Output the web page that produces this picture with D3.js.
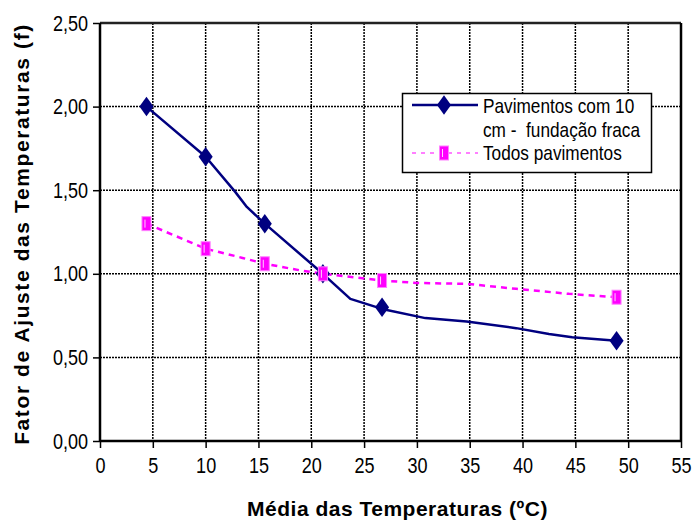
<!DOCTYPE html>
<html>
<head>
<meta charset="utf-8">
<script src="https://cdn.jsdelivr.net/npm/d3@7/dist/d3.min.js"></script>
<style>
  html, body { margin: 0; padding: 0; background: #fff; }
  svg { display: block; }
  .tick-label { font-family: "Liberation Sans", Arial, sans-serif; font-size: 22px; fill: #000; }
  .axis-title { font-family: "Liberation Sans", Arial, sans-serif; font-weight: bold; fill: #000; }
  .legend-text { font-family: "Liberation Sans", Arial, sans-serif; font-size: 21px; fill: #000; }
</style>
</head>
<body>
<svg id="chart" width="695" height="521"></svg>
<script>
// Temperatures (°C) at which the adjustment factor is marked
const markerTemps = [4.4, 10.0, 15.6, 21.1, 26.7, 48.9];
// "Pavimentos com 10 cm - fundação fraca" marked values
const fracaValues = [2.00, 1.70, 1.30, 1.00, 0.80, 0.60];
// "Todos pavimentos" marked values
const todosValues = [1.30, 1.15, 1.06, 1.00, 0.96, 0.86];

// Full traced curves (line passes through extra unmarked points)
const fracaCurveTemps = [4.4, 10.0, 12.8, 13.9, 15.6, 21.1, 23.7, 26.7, 30.8, 34.7, 39.4, 42.5, 44.7, 48.9];
const fracaCurveValues = [2.00, 1.70, 1.49, 1.40, 1.30, 1.00, 0.85, 0.79, 0.735, 0.715, 0.675, 0.64, 0.62, 0.60];
const todosCurveTemps = [4.4, 10.0, 13.5, 15.6, 19.0, 21.1, 25.3, 26.7, 30.0, 34.7, 39.4, 44.4, 48.9];
const todosCurveValues = [1.30, 1.15, 1.095, 1.06, 1.02, 1.00, 0.97, 0.96, 0.945, 0.94, 0.91, 0.88, 0.86];

// Axis ticks
const xTicks = [0, 5, 10, 15, 20, 25, 30, 35, 40, 45, 50, 55];
const yTicks = [0, 0.5, 1.0, 1.5, 2.0, 2.5];

const seriesNames = ["Pavimentos com 10", "cm -  fundação fraca", "Todos pavimentos"];
const xTitle = "Média das Temperaturas (ºC)";
const yTitle = "Fator de Ajuste das Temperaturas (f)";

const colorFraca = "#000080";
const colorTodos = "#ff00ff";

const svg = d3.select("#chart");
const plot = { left: 100, right: 681, top: 23, bottom: 441 };

const x = d3.scaleLinear().domain([0, 55]).range([plot.left, plot.right]);
const y = d3.scaleLinear().domain([0, 2.5]).range([plot.bottom, plot.top]);

const fmt = v => d3.format(".2f")(v).replace(".", ",");

// Narrow-face look: squeeze glyphs horizontally while keeping real text
function narrow(sel, k = 0.82) {
  sel.each(function () {
    const w = this.getComputedTextLength();
    d3.select(this).attr("textLength", w * k).attr("lengthAdjust", "spacingAndGlyphs");
  });
}

// Dotted grid
const grid = svg.append("g");
grid.selectAll("line.vg")
  .data(xTicks.filter(t => t > 0 && t < 55))
  .join("line")
  .attr("x1", d => x(d)).attr("x2", d => x(d))
  .attr("y1", plot.top).attr("y2", plot.bottom)
  .attr("stroke", "#000").attr("stroke-width", 1.5)
  .attr("stroke-dasharray", "2,1");
grid.selectAll("line.hg")
  .data(yTicks.filter(t => t > 0 && t < 2.5))
  .join("line")
  .attr("x1", plot.left).attr("x2", plot.right)
  .attr("y1", d => y(d)).attr("y2", d => y(d))
  .attr("stroke", "#000").attr("stroke-width", 1.5)
  .attr("stroke-dasharray", "2,1");

// Frame: top and right borders
svg.append("line")
  .attr("x1", plot.left).attr("x2", plot.right)
  .attr("y1", plot.top).attr("y2", plot.top)
  .attr("stroke", "#222").attr("stroke-width", 2.5);
svg.append("line")
  .attr("x1", plot.right).attr("x2", plot.right)
  .attr("y1", plot.top).attr("y2", plot.bottom)
  .attr("stroke", "#000").attr("stroke-width", 2.5);

// Axes
const xAxis = d3.axisBottom(x).tickValues(xTicks).tickSize(7).tickPadding(9).tickFormat(d3.format("d"));
const yAxis = d3.axisLeft(y).tickValues(yTicks).tickSize(7).tickPadding(5).tickFormat(fmt);

const gx = svg.append("g").attr("transform", `translate(0,${plot.bottom})`).call(xAxis);
const gy = svg.append("g").attr("transform", `translate(${plot.left},0)`).call(yAxis);
[gx, gy].forEach(g => {
  g.select(".domain").attr("stroke", "#000").attr("stroke-width", 2.5);
  g.selectAll(".tick line").attr("stroke", "#000").attr("stroke-width", 1.5);
  g.selectAll(".tick text").attr("class", "tick-label").attr("font-family", null).attr("font-size", null);
  narrow(g.selectAll(".tick text"));
});
gx.select(".domain").attr("d", `M${plot.left},0H${plot.right}`);
gy.select(".domain").attr("d", `M0,${plot.top}V${plot.bottom}`);

// Axis titles
svg.append("text")
  .attr("class", "axis-title")
  .attr("x", (plot.left + plot.right) / 2 + 7)
  .attr("y", 516)
  .attr("text-anchor", "middle")
  .attr("font-size", 21)
  .style("letter-spacing", "0.5px")
  .text(xTitle);
svg.append("text")
  .attr("class", "axis-title")
  .attr("transform", `translate(29,${(plot.top + plot.bottom) / 2 + 2}) rotate(-90)`)
  .attr("text-anchor", "middle")
  .attr("font-size", 21)
  .style("letter-spacing", "1.6px")
  .text(yTitle);

// Series lines
const line = d3.line().x(d => x(d[0])).y(d => y(d[1]));
const todosCurve = d3.zip(todosCurveTemps, todosCurveValues);
const fracaCurve = d3.zip(fracaCurveTemps, fracaCurveValues);

svg.append("path")
  .datum(todosCurve)
  .attr("d", line)
  .attr("fill", "none")
  .attr("stroke", colorTodos)
  .attr("stroke-width", 2.5)
  .attr("stroke-dasharray", "6,5");

svg.append("path")
  .datum(fracaCurve)
  .attr("d", line)
  .attr("fill", "none")
  .attr("stroke", colorFraca)
  .attr("stroke-width", 2.5)
  .attr("stroke-linejoin", "round");

// Markers
const diamond = d3.symbol().type(d3.symbolDiamond).size(110);
svg.append("g").selectAll("path")
  .data(d3.zip(markerTemps, fracaValues))
  .join("path")
  .attr("d", diamond)
  .attr("transform", d => `translate(${x(d[0])},${y(d[1])}) scale(1.25,1)`)
  .attr("fill", colorFraca);

function squareMarker(g, cx, cy) {
  g.append("rect")
    .attr("x", cx - 4.5).attr("y", cy - 7)
    .attr("width", 9).attr("height", 14)
    .attr("fill", colorTodos)
    .attr("stroke", "#ff80ff").attr("stroke-width", 1);
  g.append("line")
    .attr("x1", cx - 1.5).attr("x2", cx - 1.5)
    .attr("y1", cy - 4).attr("y2", cy + 4)
    .attr("stroke", "#ffd0ff").attr("stroke-width", 1);
}
const todosMarks = svg.append("g");
d3.zip(markerTemps, todosValues).forEach(d => squareMarker(todosMarks, x(d[0]), y(d[1])));

// Legend
const lg = svg.append("g");
lg.append("rect")
  .attr("x", 402.5).attr("y", 93.5).attr("width", 249).attr("height", 79)
  .attr("fill", "#fff").attr("stroke", "#000").attr("stroke-width", 1.5);
lg.append("line")
  .attr("x1", 412).attr("x2", 478).attr("y1", 105).attr("y2", 105)
  .attr("stroke", colorFraca).attr("stroke-width", 2.5);
lg.append("path")
  .attr("d", diamond)
  .attr("transform", "translate(444,105) scale(1.25,1)")
  .attr("fill", colorFraca);
lg.append("line")
  .attr("x1", 412).attr("x2", 478).attr("y1", 153).attr("y2", 153)
  .attr("stroke", colorTodos).attr("stroke-width", 1.2)
  .attr("stroke-dasharray", "4,5");
squareMarker(lg, 444, 153);

const legendLabels = [
  lg.append("text").attr("class", "legend-text").attr("x", 483).attr("y", 113).text(seriesNames[0]),
  lg.append("text").attr("class", "legend-text").attr("x", 483).attr("y", 137).style("white-space", "pre").text(seriesNames[1]),
  lg.append("text").attr("class", "legend-text").attr("x", 483).attr("y", 160).text(seriesNames[2])
];
legendLabels.forEach(t => narrow(t));
</script>
</body>
</html>
